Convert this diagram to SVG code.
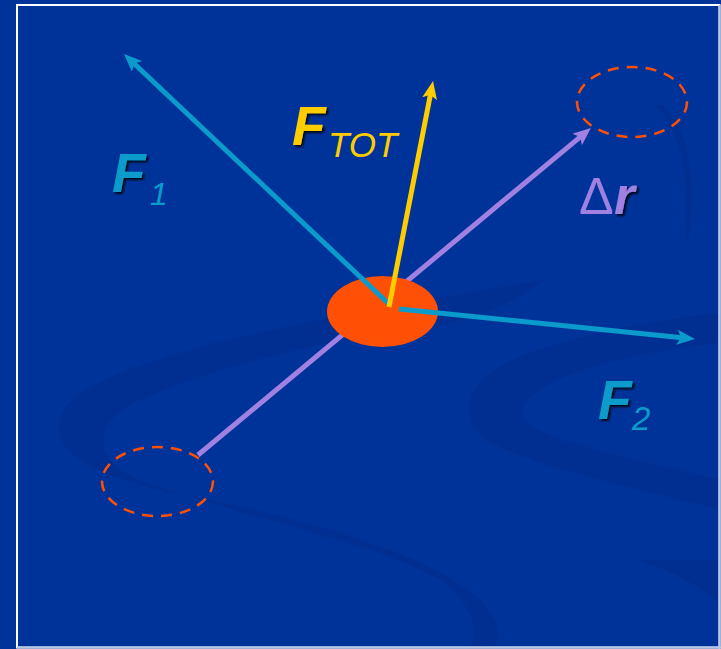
<svg xmlns="http://www.w3.org/2000/svg" width="721" height="649" viewBox="0 0 721 649">
<defs>
<style>
.bg{fill:#003399}
.sw{fill:#002C8A;opacity:0.55}
.ln{stroke-width:5;fill:none;stroke-linecap:butt}
.dash{fill:none;stroke:#FF5005;stroke-width:2.5;stroke-dasharray:11 8}
.big{font-family:"Liberation Sans",Arial,sans-serif;font-weight:bold;font-style:italic}
.sub{font-family:"Liberation Sans",Arial,sans-serif;font-style:italic}
.cyan{fill:#0A9BCC}
</style>
<filter id="sh" x="-20%" y="-20%" width="150%" height="150%">
<feDropShadow dx="2" dy="2" stdDeviation="0.8" flood-color="#000" flood-opacity="0.85"/>
</filter>
<marker id="mc" refX="10" refY="7.5" markerWidth="20" markerHeight="16" markerUnits="userSpaceOnUse" orient="auto"><path d="M0,0 L18,7.5 L0,15 L4,7.5 Z" fill="#0A9BCC"/></marker>
<marker id="my" refX="10" refY="7.5" markerWidth="20" markerHeight="16" markerUnits="userSpaceOnUse" orient="auto"><path d="M0,0 L18,7.5 L0,15 L4,7.5 Z" fill="#FFCC00"/></marker>
<marker id="mp" refX="10" refY="7.5" markerWidth="20" markerHeight="16" markerUnits="userSpaceOnUse" orient="auto"><path d="M0,0 L18,7.5 L0,15 L4,7.5 Z" fill="#A080E0"/></marker>
</defs>
<rect class="bg" x="0" y="0" width="721" height="649"/>
<g id="swooshes">
<path class="sw" d="M543,280 C300,320 90,360 62,413 C45,450 90,480 210,500 C330,525 440,560 480,600 C500,620 505,640 490,649 L470,649 C480,630 470,600 440,580 C370,540 250,520 140,480 C90,460 95,425 130,405 C200,370 320,340 440,325 C480,318 520,300 543,280 Z"/>
<path class="sw" d="M721,313 C640,320 540,345 506,363 C470,382 458,410 480,435 C510,460 600,480 721,510 L721,480 C640,460 540,440 525,420 C510,400 560,360 721,343 Z"/>
<path class="sw" d="M637,560 C670,570 700,585 721,605 L721,560 Z"/>
<path class="sw" opacity="0.6" d="M655,105 C680,130 690,170 685,240 L689,240 C697,170 688,130 663,105 Z"/>
</g>
<rect x="17" y="5" width="702.5" height="642.5" fill="none" stroke="#FFFFFF" stroke-width="2"/>
<line x1="17" y1="647.5" x2="721" y2="647.5" stroke="#B8C8E6" stroke-width="2"/>
<line x1="719.5" y1="5" x2="719.5" y2="649" stroke="#B8C8E6" stroke-width="2"/>
<g id="connectors">
<line class="ln" x1="198" y1="455" x2="584.8" y2="133.1" stroke="#A080E0" marker-end="url(#mp)"/>
</g>
<g id="start-pos"><ellipse class="dash" cx="157.5" cy="481.5" rx="55.5" ry="34.5"/></g>
<g id="end-pos"><ellipse class="dash" cx="632" cy="102" rx="55" ry="35"/></g>
<g id="body"><ellipse cx="382.5" cy="311.5" rx="55.5" ry="35.5" fill="#FF5005"/></g>
<g id="forces">
<line class="ln" x1="390" y1="305" x2="129.8" y2="59.5" stroke="#0A9BCC" marker-end="url(#mc)"/>
<line class="ln" x1="399" y1="309" x2="687" y2="338.2" stroke="#0A9BCC" marker-end="url(#mc)"/>
<line class="ln" x1="389" y1="307" x2="431.5" y2="88.9" stroke="#FFCC00" marker-end="url(#my)"/>
</g>
<g id="label-F1">
<text class="big cyan" x="112" y="192" font-size="55" filter="url(#sh)">F</text>
<text class="sub cyan" x="150" y="205" font-size="32">1</text>
</g>
<g id="label-FTOT">
<text class="big" x="292" y="145" font-size="55" fill="#FFCC00" filter="url(#sh)">F</text>
<text class="sub" x="328" y="157" font-size="35" fill="#FFCC00">TOT</text>
</g>
<g id="label-dr">
<text x="579" y="214" font-family="Liberation Sans,Arial,sans-serif" font-size="52" fill="#A080E0">Δ</text>
<text class="big" x="614" y="214" font-size="53" fill="#A080E0" filter="url(#sh)">r</text>
</g>
<g id="label-F2">
<text class="big cyan" x="598" y="419" font-size="55" filter="url(#sh)">F</text>
<text class="sub cyan" x="632" y="430" font-size="33">2</text>
</g>
</svg>
